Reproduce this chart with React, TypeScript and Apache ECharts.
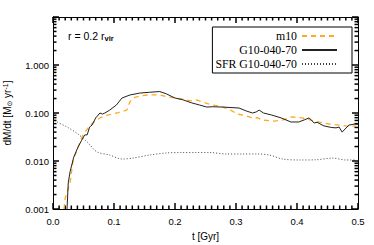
import React, { useEffect, useRef } from "react";
import * as echarts from "echarts";

const tG10 = [0.023,0.025,0.028,0.034,0.041,0.047,0.052,0.056,0.060,0.064,0.070,0.077,0.081,0.085,0.093,0.104,0.113,0.126,0.142,0.158,0.175,0.186,0.200,0.212,0.227,0.240,0.252,0.262,0.278,0.305,0.317,0.327,0.333,0.338,0.345,0.358,0.374,0.390,0.403,0.412,0.420,0.428,0.433,0.444,0.456,0.464,0.469,0.474,0.485,0.495,0.500];
const vG10 = [0.001,0.0035,0.006,0.012,0.0195,0.027,0.035,0.035,0.051,0.056,0.079,0.1,0.095,0.1,0.115,0.147,0.205,0.237,0.26,0.27,0.28,0.25,0.205,0.19,0.163,0.147,0.133,0.135,0.133,0.127,0.11,0.1,0.105,0.115,0.1,0.091,0.079,0.065,0.065,0.072,0.079,0.062,0.064,0.054,0.05,0.049,0.051,0.040,0.056,0.059,0.058];

const tM10 = [0.018,0.020,0.028,0.033,0.041,0.049,0.057,0.065,0.077,0.090,0.105,0.121,0.126,0.131,0.142,0.158,0.175,0.186,0.200,0.212,0.227,0.235,0.245,0.260,0.273,0.289,0.302,0.317,0.327,0.335,0.343,0.363,0.376,0.392,0.408,0.423,0.436,0.453,0.469,0.485,0.497];
const vM10 = [0.001,0.0017,0.0035,0.0105,0.019,0.035,0.048,0.062,0.079,0.091,0.1,0.115,0.17,0.205,0.225,0.24,0.237,0.22,0.205,0.195,0.178,0.187,0.17,0.147,0.14,0.12,0.095,0.087,0.079,0.08,0.071,0.068,0.071,0.083,0.079,0.071,0.065,0.059,0.056,0.0525,0.054];

const tSFR = [0.003,0.007,0.023,0.039,0.056,0.072,0.093,0.113,0.131,0.158,0.186,0.212,0.235,0.257,0.284,0.310,0.335,0.355,0.376,0.404,0.431,0.458,0.480,0.497];
const vSFR = [0.071,0.065,0.051,0.038,0.025,0.0155,0.0133,0.011,0.0115,0.0133,0.0147,0.015,0.015,0.015,0.014,0.014,0.014,0.0133,0.011,0.0105,0.0106,0.0115,0.0105,0.0105];

const seriesNames = ["m10", "G10-040-70", "SFR G10-040-70"];
const xTicks = [0, 0.1, 0.2, 0.3, 0.4, 0.5];
const yDecades = [0.001, 0.01, 0.1, 1, 10];
const yTickLabels = ["0.001", "0.010", "0.100", "1.000"];

const zip = (t: number[], v: number[]) => t.map((x, i) => [x, v[i]]);

const sans = "Liberation Sans";
const serif = "Liberation Serif";

const xTickData: number[][] = [];
for (let i = 0; i < xTicks.length - 1; i++) {
  for (let k = 0; k < 10; k++) {
    xTickData.push([+(xTicks[i] + k * 0.01).toFixed(3), yDecades[0], k === 0 ? 1 : 0]);
  }
}
xTickData.push([xTicks[xTicks.length - 1], yDecades[0], 1]);
const yTickData: number[][] = [];
for (let i = 0; i < yDecades.length - 1; i++) {
  for (let m = 1; m < 10; m++) {
    yTickData.push([xTicks[0], yDecades[i] * m, m === 1 ? 1 : 0]);
  }
}
yTickData.push([xTicks[0], yDecades[yDecades.length - 1], 1]);

const MAJOR = 6;
const MINOR = 3.5;

export default function App() {
  const ref = useRef<HTMLDivElement>(null);
  useEffect(() => {
    if (!ref.current) return;
    const chart = echarts.init(ref.current, null, { renderer: "svg" });
    const xMin = xTicks[0];
    const xMax = xTicks[xTicks.length - 1];
    const yMin = yDecades[0];
    const yMax = yDecades[yDecades.length - 1];
    const mkXAxis = (pos: "bottom" | "top", extra: any) => ({
      type: "value",
      position: pos,
      min: xMin,
      max: xMax,
      interval: 0.1,
      axisLine: { show: true, onZero: false, lineStyle: { color: "#000", width: 1 } },
      axisTick: { show: false },
      splitLine: { show: false },
      ...extra,
    });
    const mkYAxis = (pos: "left" | "right", extra: any) => ({
      type: "log",
      position: pos,
      logBase: 10,
      min: yMin,
      max: yMax,
      axisLine: { show: true, onZero: false, lineStyle: { color: "#000", width: 1 } },
      axisTick: { show: false },
      splitLine: { show: false },
      ...extra,
    });
    const tickSeries = (data: number[][], side: "bottom" | "top" | "left" | "right") => ({
      type: "custom",
      data,
      renderItem: (_p: any, api: any) => {
        const len = api.value(2) ? MAJOR : MINOR;
        let x1 = 0, y1 = 0, x2 = 0, y2 = 0;
        if (side === "bottom" || side === "top") {
          const p = api.coord([api.value(0), side === "bottom" ? yMin : yMax]);
          x1 = p[0]; x2 = p[0]; y1 = p[1];
          y2 = side === "bottom" ? p[1] - len : p[1] + len;
        } else {
          const p = api.coord([side === "left" ? xMin : xMax, api.value(1)]);
          y1 = p[1]; y2 = p[1]; x1 = p[0];
          x2 = side === "left" ? p[0] + len : p[0] - len;
        }
        return { type: "line", shape: { x1, y1, x2, y2 }, style: { stroke: "#000", lineWidth: 1.5 } };
      },
    });
    chart.setOption({
      animation: false,
      grid: { left: 53, right: 16, top: 17, bottom: 36, outerBoundsMode: "none" },
      title: {
        text: "r = 0.2 r{sub|vir}",
        left: 68,
        top: 29,
        padding: 0,
        textStyle: {
          fontFamily: sans,
          fontSize: 10.5,
          fontWeight: "normal",
          color: "#000",
          rich: { sub: { fontFamily: sans, fontSize: 7.5, fontWeight: "bold", verticalAlign: "bottom", padding: [5, 0, 0, 0] } },
        },
      },
      legend: {
        orient: "vertical",
        right: 22,
        top: 27,
        align: "right",
        itemWidth: 35,
        itemHeight: 8,
        itemGap: 2,
        padding: [3, 14, 3, 3],
        borderColor: "#000",
        borderWidth: 1,
        data: seriesNames,
        itemStyle: { opacity: 0 },
        textStyle: { fontFamily: serif, fontSize: 11.8, color: "#000", lineHeight: 10 },
      },
      xAxis: [
        mkXAxis("bottom", {
          name: "t [Gyr]",
          nameLocation: "middle",
          nameGap: 22,
          nameTextStyle: { fontFamily: sans, fontSize: 10, color: "#000" },
          axisLabel: {
            fontFamily: sans,
            fontSize: 9.5,
            color: "#000",
            margin: 7,
            formatter: (v: number) => v.toFixed(1),
          },
        }),
        mkXAxis("top", { axisLabel: { show: false } }),
      ],
      yAxis: [
        mkYAxis("left", {
          name: "dM/dt [M{s|⊙} yr{sup|-1}]",
          nameLocation: "middle",
          nameRotate: 90,
          nameGap: 40,
          nameTextStyle: {
            fontFamily: sans,
            fontSize: 10,
            color: "#000",
            rich: {
              s: { fontFamily: "DejaVu Sans", fontSize: 7, verticalAlign: "bottom" },
              sup: { fontFamily: sans, fontSize: 7, verticalAlign: "top", padding: [0, 0, 4, 0] },
            },
          },
          axisLabel: {
            fontFamily: sans,
            fontSize: 9.5,
            color: "#000",
            margin: 4,
            formatter: (v: number) => {
              const s = v.toFixed(3);
              return yTickLabels.includes(s) ? s : "";
            },
          },
        }),
        mkYAxis("right", { axisLabel: { show: false } }),
      ],
      series: [
        {
          name: seriesNames[0],
          type: "line",
          data: zip(tM10, vM10),
          symbol: "none",
          lineStyle: { color: "#FFAA22", width: 1.3, type: [5, 4] },
          itemStyle: { color: "#FFAA22" },
          z: 2,
        },
        {
          name: seriesNames[1],
          type: "line",
          data: zip(tG10, vG10),
          symbol: "none",
          lineStyle: { color: "#222", width: 1 },
          itemStyle: { color: "#222" },
          z: 3,
        },
        {
          name: seriesNames[2],
          type: "line",
          data: zip(tSFR, vSFR),
          symbol: "none",
          smooth: 0.3,
          lineStyle: { color: "#444", width: 1, type: [1, 2] },
          itemStyle: { color: "#444" },
          z: 1,
        },
        tickSeries(xTickData, "bottom"),
        tickSeries(xTickData, "top"),
        tickSeries(yTickData, "left"),
        tickSeries(yTickData, "right"),
      ],
    });
    return () => chart.dispose();
  }, []);
  return <div ref={ref} style={{ width: 374, height: 245, position: "absolute", left: 0, top: 0 }} />;
}
